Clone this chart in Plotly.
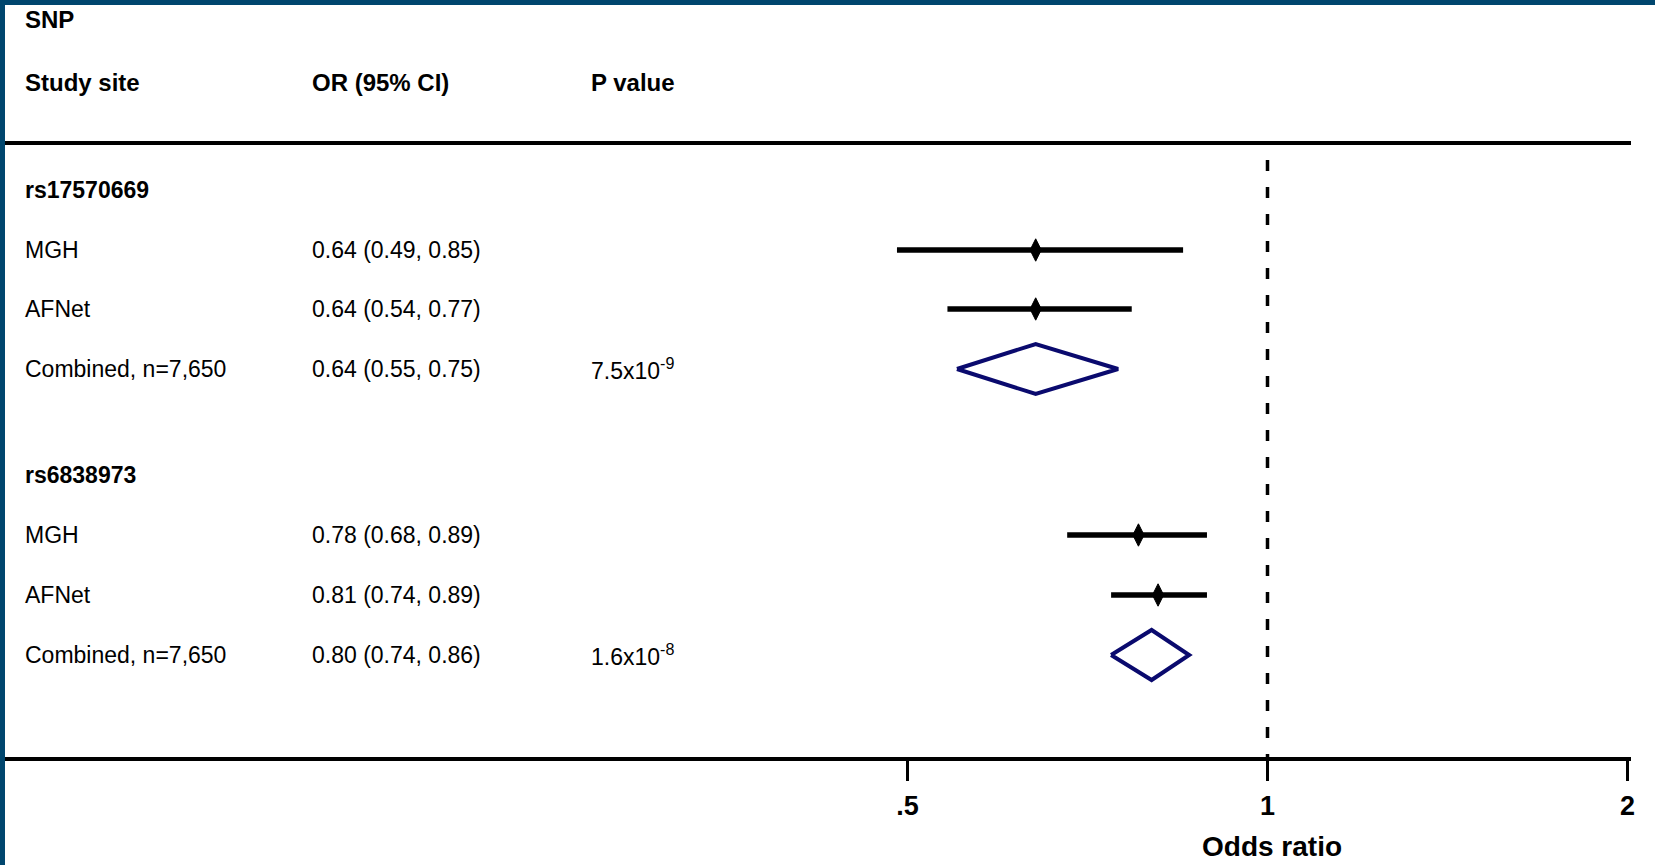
import math
import plotly.graph_objects as go

# ---------------- data ----------------
snp_ids = ["rs17570669", "rs6838973"]
site_labels = ["MGH", "AFNet", "Combined, n=7,650"]
or_snp1 = [0.64, 0.64, 0.64]
lo_snp1 = [0.49, 0.54, 0.55]
hi_snp1 = [0.85, 0.77, 0.75]
or_snp2 = [0.78, 0.81, 0.80]
lo_snp2 = [0.68, 0.74, 0.74]
hi_snp2 = [0.89, 0.89, 0.86]
p_values = ["7.5x10<sup>-9</sup>", "1.6x10<sup>-8</sup>"]
tick_vals = [0.5, 1, 2]
tick_text = [".5", "1", "2"]
col_headers = ["Study site", "OR (95% CI)", "P value"]

# ---------------- layout constants ----------------
W, H = 1655, 865
PLOT_R = 1631          # right edge of plot area in px
AXIS_Y = 757           # px of bottom axis line
FONT = "Liberation Sans, Arial, Helvetica, sans-serif"
NAVY = "#0a0a6e"
FRAME = "#00466e"

header_rows = [190, 475]
site_rows = [[250, 309, 369], [535, 595, 655]]
col_x = [23, 310, 589]
DIAMOND_H = 25

# px = C + K*log10(OR)
C = 1267.5
K = 1196.0
xr = [(0 - C) / K, (PLOT_R - C) / K]

def px(x):
    return x / PLOT_R

fig = go.Figure()

# reference line at OR = 1
fig.add_trace(go.Scatter(x=[1, 1], y=[160, AXIS_Y], mode="lines",
                         line=dict(color="black", width=3.5, dash="11px,16px"),
                         hoverinfo="skip", showlegend=False))

groups = [(or_snp1, lo_snp1, hi_snp1), (or_snp2, lo_snp2, hi_snp2)]
annotations = []

def txt(x, y, text, bold=False, size=23, yref="y", xanchor="left"):
    annotations.append(dict(
        x=x, y=y, xref="paper", yref=yref, text=(f"<b>{text}</b>" if bold else text),
        showarrow=False, xanchor=xanchor, yanchor="middle",
        font=dict(family=FONT, size=size, color="black")))

# headers
txt(px(col_x[0]), 19, "SNP", bold=True, size=24)
for cx, h in zip(col_x, col_headers):
    txt(px(cx), 82, h, bold=True, size=24)

for g, (est, lo, hi) in enumerate(groups):
    txt(px(col_x[0]), header_rows[g], snp_ids[g], bold=True, size=23)
    for i in range(3):
        y = site_rows[g][i]
        txt(px(col_x[0]), y, site_labels[i])
        txt(px(col_x[1]), y, f"{est[i]:.2f} ({lo[i]:.2f}, {hi[i]:.2f})")
        if i < 2:
            fig.add_trace(go.Scatter(x=[lo[i], hi[i]], y=[y, y], mode="lines",
                                     line=dict(color="black", width=5.5),
                                     hoverinfo="skip", showlegend=False))
            fig.add_trace(go.Scatter(x=[est[i]], y=[y], mode="markers",
                                     marker=dict(symbol="diamond-tall", size=16, color="black",
                                                 line=dict(color="black", width=1)),
                                     hoverinfo="skip", showlegend=False))
        else:
            txt(px(col_x[2]), y, p_values[g])
            fig.add_trace(go.Scatter(
                x=[lo[i], est[i], hi[i], est[i], lo[i]],
                y=[y, y - DIAMOND_H, y, y + DIAMOND_H, y],
                mode="lines", line=dict(color=NAVY, width=4),
                hoverinfo="skip", showlegend=False))

# axis title
annotations.append(dict(x=px(1272), y=(AXIS_Y - 846) / AXIS_Y, xref="paper", yref="paper",
                        text="<b>Odds ratio</b>", showarrow=False, xanchor="center",
                        yanchor="middle", font=dict(family=FONT, size=28, color="black")))

shapes = [
    # top rule
    dict(type="line", xref="paper", yref="y", x0=0, x1=1, y0=143, y1=143,
         line=dict(color="black", width=4)),
    # frame: top band and left band
    dict(type="rect", xref="paper", yref="paper", x0=0, x1=W / PLOT_R,
         y0=1, y1=(AXIS_Y - 5) / AXIS_Y, fillcolor=FRAME, line=dict(width=0), layer="above"),
    dict(type="rect", xref="paper", yref="paper", x0=0, x1=5 / PLOT_R,
         y0=1, y1=(AXIS_Y - H) / AXIS_Y, fillcolor=FRAME, line=dict(width=0), layer="above"),
]

fig.update_layout(
    width=W, height=H,
    margin=dict(l=0, r=W - PLOT_R, t=0, b=H - AXIS_Y, pad=0),
    paper_bgcolor="white", plot_bgcolor="white",
    showlegend=False,
    annotations=annotations, shapes=shapes,
    xaxis=dict(type="log", range=xr, tickvals=tick_vals,
               ticktext=[f"<b>{t}</b>" for t in tick_text],
               showgrid=False, zeroline=False, showline=True, linecolor="black",
               linewidth=4, ticks="outside", ticklen=20, tickwidth=3, tickcolor="black",
               tickfont=dict(family=FONT, size=27, color="black"),
               ticklabelstandoff=2, fixedrange=True),
    yaxis=dict(range=[AXIS_Y, 0], visible=False, showgrid=False, zeroline=False,
               fixedrange=True),
    font=dict(family=FONT),
)

fig.write_html("out.html", config={"displayModeBar": False},
               post_script="document.body.style.margin='0';document.body.style.overflow='hidden';")
